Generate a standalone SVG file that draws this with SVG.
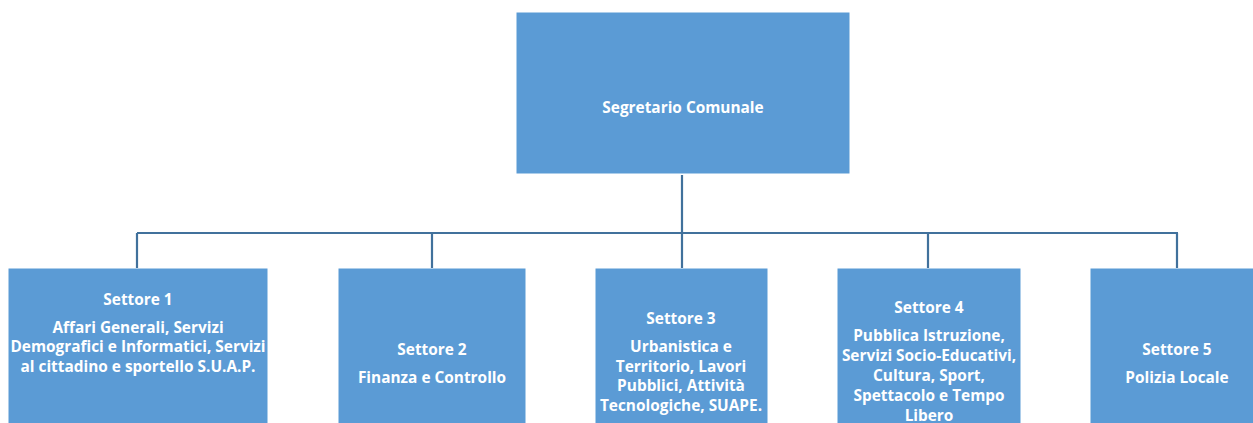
<svg xmlns="http://www.w3.org/2000/svg" width="1253" height="423" viewBox="0 0 1253 423">
<style>
.box{fill:#5B9BD5;stroke:#5B9BD5;stroke-width:1}
.t{font-family:"Open Sans","Liberation Sans",Arial,sans-serif;font-weight:bold;font-size:15.4px;fill:#fff;text-anchor:middle}
.c{stroke:#41719C;stroke-width:2.2;fill:none}
</style>
<rect width="1253" height="423" fill="#fff"/>
<g id="connectors">
<path class="c" d="M682 175V234M137 233H1178M137 233V268M432 233V268M682 233V268M928 233V268M1177 233V268"/>
</g>
<g id="segretario">
<rect class="box" x="517" y="13" width="332" height="160"/>
<text class="t" x="683" y="113">Segretario Comunale</text>
</g>
<g id="settore1">
<rect class="box" x="9" y="269" width="258" height="160"/>
<text class="t" x="138" y="305">Settore 1</text>
<text class="t" x="138" y="333">Affari Generali, Servizi</text>
<text class="t" x="138" y="352">Demografici e Informatici, Servizi</text>
<text class="t" x="138" y="372">al cittadino e sportello S.U.A.P.</text>
</g>
<g id="settore2">
<rect class="box" x="339" y="269" width="186" height="160"/>
<text class="t" x="432" y="355">Settore 2</text>
<text class="t" x="432" y="383">Finanza e Controllo</text>
</g>
<g id="settore3">
<rect class="box" x="596" y="269" width="171" height="160"/>
<text class="t" x="681" y="324">Settore 3</text>
<text class="t" x="681" y="352">Urbanistica e</text>
<text class="t" x="681" y="372">Territorio, Lavori</text>
<text class="t" x="681" y="391">Pubblici, Attività</text>
<text class="t" x="681" y="411">Tecnologiche, SUAPE.</text>
</g>
<g id="settore4">
<rect class="box" x="838" y="269" width="182" height="160"/>
<text class="t" x="929" y="313">Settore 4</text>
<text class="t" x="929" y="341">Pubblica Istruzione,</text>
<text class="t" x="929" y="361">Servizi Socio-Educativi,</text>
<text class="t" x="929" y="381">Cultura, Sport,</text>
<text class="t" x="929" y="401">Spettacolo e Tempo</text>
<text class="t" x="929" y="421">Libero</text>
</g>
<g id="settore5">
<rect class="box" x="1091" y="269" width="170" height="160"/>
<text class="t" x="1177" y="355">Settore 5</text>
<text class="t" x="1177" y="383">Polizia Locale</text>
</g>
</svg>
